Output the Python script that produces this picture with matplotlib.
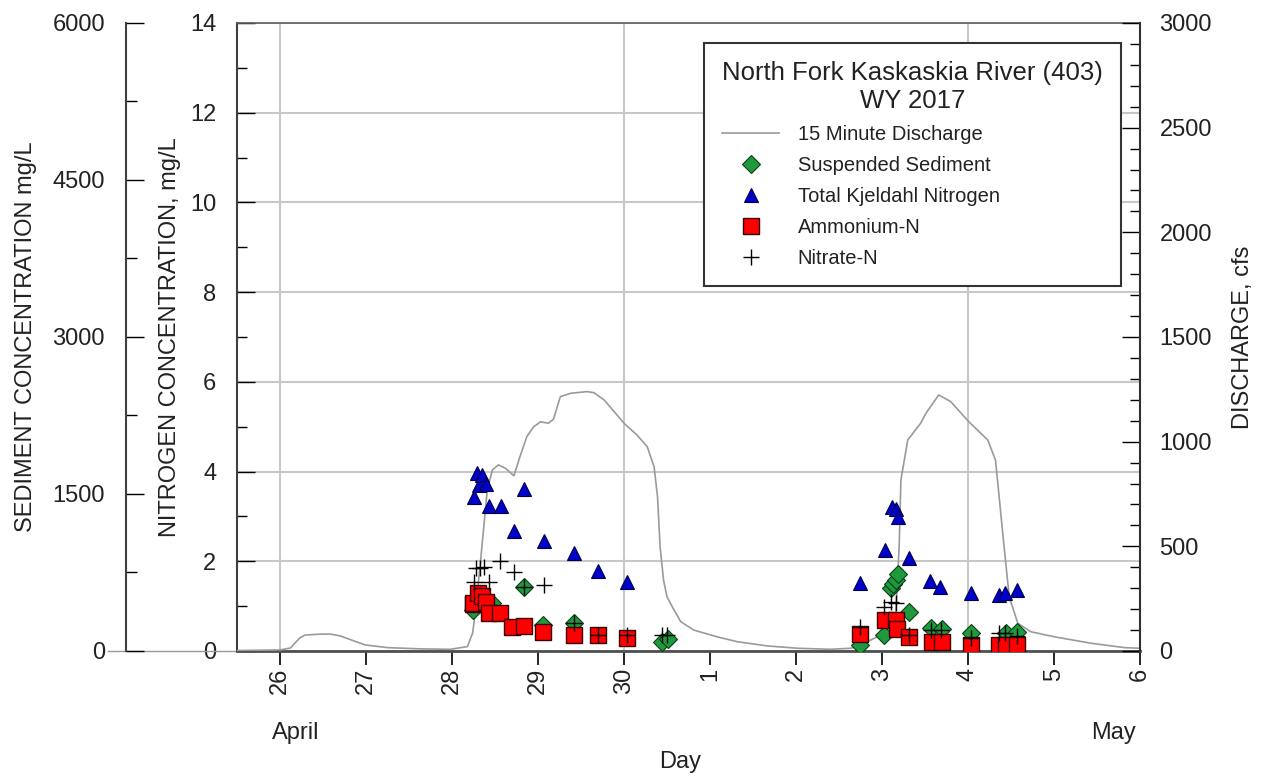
import matplotlib.pyplot as plt
from matplotlib.lines import Line2D
from matplotlib.ticker import MultipleLocator

plt.rcParams['font.family'] = ['Liberation Sans', 'DejaVu Sans']

# day numbering: April d -> d, May d -> 30 + d
# 15 minute discharge, cfs
q_day = [25.50, 26.00, 26.12, 26.23, 26.29, 26.45, 26.58, 26.70, 26.86, 26.99,
         27.25, 27.63, 27.98, 28.18, 28.24, 28.27, 28.33, 28.41, 28.47, 28.54,
         28.62, 28.72, 28.79, 28.87, 28.95, 29.03, 29.12, 29.18, 29.26, 29.38,
         29.57, 29.65, 29.77, 30.00, 30.15, 30.27, 30.35, 30.39, 30.42, 30.46,
         30.50, 30.56, 30.66, 30.81, 31.08, 31.32, 31.67, 32.02, 32.40, 32.64,
         32.79, 32.99, 33.07, 33.16, 33.20, 33.22, 33.30, 33.45, 33.51, 33.66,
         33.80, 34.01, 34.23, 34.32, 34.42, 34.48, 34.58, 34.73, 35.00, 35.43,
         35.82, 36.00]
q_cfs = [2, 5, 14, 62, 76, 80, 81, 72, 48, 29,
         16, 10, 8, 21, 86, 181, 420, 769, 865, 889,
         873, 837, 928, 1024, 1071, 1095, 1088, 1107, 1215, 1231,
         1239, 1234, 1199, 1088, 1032, 976, 880, 737, 497, 339,
         259, 212, 140, 100, 68, 44, 24, 13, 8, 13,
         37, 76, 116, 180, 498, 817, 1008, 1088, 1135, 1223,
         1191, 1095, 1008, 912, 498, 258, 132, 92, 68, 37,
         16, 13]

# suspended sediment, mg/L
sed_day = [28.25, 28.47, 28.84, 29.06, 29.42, 30.44, 30.51, 32.75, 33.02, 33.10,
           33.13, 33.16, 33.19, 33.31, 33.57, 33.70, 34.03, 34.44, 34.57]
sed = [392, 456, 609, 248, 265, 89, 112, 57, 153, 599,
       640, 678, 733, 370, 217, 207, 169, 169, 178]

# total Kjeldahl nitrogen, mg/L
tkn_day = [28.26, 28.29, 28.31, 28.35, 28.40, 28.43, 28.57, 28.72, 28.84, 29.07,
           29.42, 29.70, 30.04, 32.75, 33.04, 33.12, 33.16, 33.19, 33.31, 33.56,
           33.68, 34.03, 34.36, 34.43, 34.57]
tkn = [3.44, 3.97, 3.70, 3.92, 3.72, 3.23, 3.23, 2.68, 3.60, 2.45,
       2.19, 1.79, 1.53, 1.51, 2.24, 3.22, 3.16, 2.99, 2.08, 1.55,
       1.43, 1.29, 1.25, 1.29, 1.36]

# ammonium-N, mg/L
nh4_day = [28.24, 28.25, 28.30, 28.35, 28.39, 28.43, 28.56, 28.70, 28.84, 29.06,
           29.42, 29.70, 30.04, 32.74, 33.04, 33.16, 33.18, 33.31, 33.58, 33.70,
           34.03, 34.36, 34.44, 34.57]
nh4 = [1.04, 1.06, 1.29, 1.23, 1.10, 0.84, 0.84, 0.54, 0.56, 0.43,
       0.36, 0.36, 0.28, 0.37, 0.69, 0.69, 0.48, 0.32, 0.21, 0.21,
       0.13, 0.13, 0.13, 0.13]

# nitrate-N, mg/L
no3_day = [28.26, 28.28, 28.33, 28.37, 28.43, 28.56, 28.72, 28.84, 29.07, 29.42,
           29.70, 30.04, 30.44, 30.50, 32.74, 33.02, 33.10, 33.16, 33.31, 33.57,
           33.69, 34.03, 34.36, 34.43, 34.57]
no3 = [1.53, 1.84, 1.86, 1.88, 1.53, 2.01, 1.77, 1.42, 1.47, 0.62,
       0.36, 0.36, 0.36, 0.36, 0.54, 0.99, 1.10, 1.08, 0.35, 0.47,
       0.47, 0.30, 0.39, 0.39, 0.33]

day_ticks = [26, 27, 28, 29, 30, 31, 32, 33, 34, 35, 36]
day_labels = ['26', '27', '28', '29', '30', '1', '2', '3', '4', '5', '6']
grid_days = [26, 30, 34]

fig = plt.figure(figsize=(12.62, 7.77), dpi=100)
ax = fig.add_axes([0.1878, 0.1622, 0.7155, 0.8082])
ax.set_zorder(1)

txt = '#222222'

# nitrogen axis (left, inner) with grid
ax.set_xlim(25.5, 36)
ax.set_ylim(0, 14)
ax.yaxis.set_major_locator(MultipleLocator(2))
ax.yaxis.set_minor_locator(MultipleLocator(1))
ax.set_xticks(day_ticks)
ax.set_xticklabels(day_labels)
ax.yaxis.grid(True, which='major', color='#c8c8c8', lw=1.5)
for d in grid_days:
    ax.axvline(d, color='#c8c8c8', lw=1.5, zorder=0.5)
ax.set_axisbelow(True)
ax.tick_params(axis='y', which='major', direction='in', length=13, width=1,
               labelsize=17, pad=15, labelcolor=txt)
ax.tick_params(axis='y', which='minor', direction='in', length=7, width=1)
ax.tick_params(axis='x', direction='out', length=10, width=1.2, labelsize=17,
               labelrotation=90, pad=2, labelcolor=txt)
ax.spines['right'].set_visible(False)
ax.spines['left'].set_color('#404040')
ax.spines['left'].set_linewidth(1.5)
ax.spines['top'].set_color('#606060')
ax.spines['top'].set_linewidth(1.2)
ax.spines['bottom'].set_color('#505050')
ax.spines['bottom'].set_linewidth(2)
ax.axhline(0, xmin=-0.143, xmax=0, color='#999999', lw=1, clip_on=False)

# discharge axis (right)
ax_q = ax.twinx()
ax_q.set_zorder(2)
ax_q.set_ylim(0, 3000)
ax_q.yaxis.set_major_locator(MultipleLocator(500))
ax_q.yaxis.set_minor_locator(MultipleLocator(100))
ax_q.tick_params(axis='y', which='major', direction='in', length=13, width=1,
                 labelsize=17, pad=14, labelcolor=txt)
ax_q.tick_params(axis='y', which='minor', direction='in', length=7, width=1)
for s in ['left', 'top', 'bottom']:
    ax_q.spines[s].set_visible(False)
ax_q.spines['right'].set_color('#303030')
ax_q.spines['right'].set_linewidth(1.5)
ax_q.plot(q_day, q_cfs, color='#9a9a9a', lw=1.2)

# sediment axis (left, outer)
ax_sed = ax.twinx()
ax_sed.set_zorder(3)
ax_sed.set_ylim(0, 6000)
ax_sed.yaxis.tick_left()
ax_sed.spines['left'].set_position(('outward', 80))
ax_sed.spines['left'].set_visible(True)
ax_sed.spines['left'].set_color('#404040')
ax_sed.spines['left'].set_linewidth(1.5)
for s in ['right', 'top', 'bottom']:
    ax_sed.spines[s].set_visible(False)
ax_sed.yaxis.set_major_locator(MultipleLocator(1500))
ax_sed.yaxis.set_minor_locator(MultipleLocator(750))
ax_sed.tick_params(axis='y', which='major', direction='in', length=13, width=1,
                   labelsize=17, pad=15, labelcolor=txt)
ax_sed.tick_params(axis='y', which='minor', direction='in', length=8, width=1)
ax_sed.plot(sed_day, sed, 'D', ms=9, mfc='#1e9a3c', mec='#0b3d17', mew=0.8, ls='none')

# nitrogen markers on top
ax_n = ax.twinx()
ax_n.set_zorder(4)
ax_n.set_ylim(0, 14)
ax_n.set_yticks([])
for s in ax_n.spines.values():
    s.set_visible(False)
ax_n.plot(tkn_day, tkn, '^', ms=10, mfc='#0000c8', mec='#00004a', mew=0.8, ls='none')
ax_n.plot(nh4_day, nh4, 's', ms=12, mfc='#ff0000', mec='#3a0000', mew=1, ls='none')
ax_n.plot(no3_day, no3, '+', ms=11, color='black', mew=1, ls='none')

# labels
fig.text(0.0206, 0.5663, 'SEDIMENT CONCENTRATION mg/L', rotation=90,
         ha='center', va='center', fontsize=17, color=txt)
fig.text(0.1347, 0.5663, 'NITROGEN CONCENTRATION, mg/L', rotation=90,
         ha='center', va='center', fontsize=17, color=txt)
fig.text(0.985, 0.5663, 'DISCHARGE, cfs', rotation=90,
         ha='center', va='center', fontsize=17, color=txt)
ax.text(0.065, -0.131, 'April', transform=ax.transAxes, ha='center', va='center',
        fontsize=17, color=txt)
ax.text(0.971, -0.131, 'May', transform=ax.transAxes, ha='center', va='center',
        fontsize=17, color=txt)
fig.text(680 / 1262, 1 - 762 / 777, 'Day', ha='center', va='center',
         fontsize=17, color=txt)

# legend
handles = [
    Line2D([], [], color='#9a9a9a', lw=1.2),
    Line2D([], [], marker='D', ms=9, mfc='#1e9a3c', mec='#0b3d17', mew=0.8, ls='none'),
    Line2D([], [], marker='^', ms=10, mfc='#0000c8', mec='#00004a', mew=0.8, ls='none'),
    Line2D([], [], marker='s', ms=12, mfc='#ff0000', mec='#3a0000', mew=1, ls='none'),
    Line2D([], [], marker='+', ms=11, color='black', mew=1, ls='none'),
]
labels = ['15 Minute Discharge', 'Suspended Sediment', 'Total Kjeldahl Nitrogen',
          'Ammonium-N', 'Nitrate-N']
leg = ax_n.legend(handles, labels, loc='upper right',
                  bbox_to_anchor=(1121 / 1262, 1 - 43 / 777),
                  bbox_transform=fig.transFigure,
                  title='North Fork Kaskaskia River (403)\nWY 2017',
                  fontsize=14.5, title_fontsize=18.5, frameon=True, fancybox=False,
                  edgecolor='#333333', framealpha=1, borderpad=0.9,
                  handlelength=2.85, handletextpad=0.9, labelspacing=0.6,
                  borderaxespad=0, alignment='left')
leg.get_frame().set_linewidth(1.5)
leg.get_title().set_multialignment('center')
leg.get_title().set_color(txt)
for t in leg.get_texts():
    t.set_color(txt)

fig.savefig('out.png', dpi=100)
